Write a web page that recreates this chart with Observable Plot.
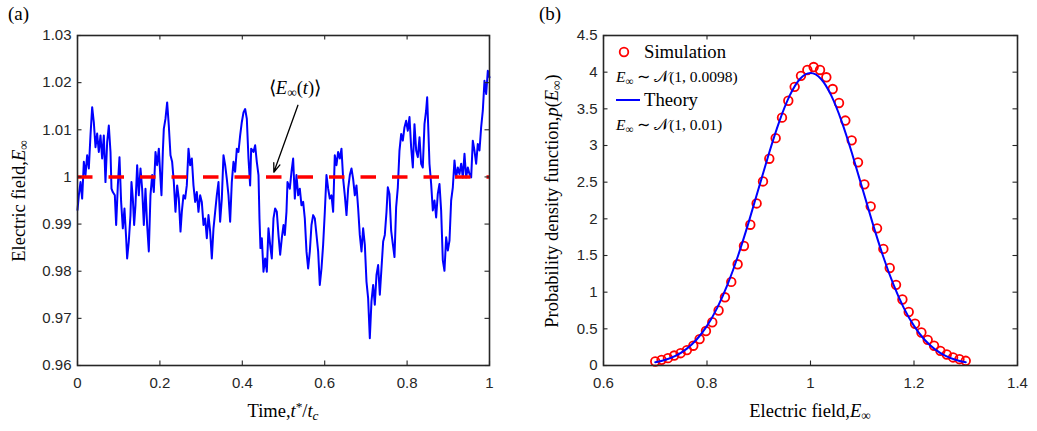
<!DOCTYPE html>
<html>
<head>
<meta charset="utf-8">
<script src="https://cdn.jsdelivr.net/npm/d3@7"></script>
<script src="https://cdn.jsdelivr.net/npm/@observablehq/plot@0.6"></script>
<style>
  body { margin: 0; background: #fff; }
  #wrap { position: relative; width: 1037px; height: 431px; overflow: hidden; background: #fff; }
  .pane { position: absolute; top: 0; }
  .tx { position: absolute; white-space: nowrap; font-family: "Liberation Serif", "Times New Roman", serif; color: #000; line-height: 1; }
  .tx i { font-style: italic; }
  .tx sub { font-size: 0.72em; vertical-align: -0.28em; line-height: 0; }
  .tx sup { font-size: 0.72em; vertical-align: 0.45em; line-height: 0; }
  .cal { font-family: "DejaVu Serif", "DejaVu Sans", serif; font-style: normal; }
  .rot { transform: translate(-50%, -50%) rotate(-90deg); }
  .ctr { transform: translate(-50%, -50%); }
  .vc { transform: translateY(-50%); }
</style>
</head>
<body>
<div id="wrap"></div>
<script>
// ---------------- Panel (a): time series ----------------
const timeT = [
  0, 0.0032, 0.0073, 0.0113, 0.0154, 0.0194, 0.0234, 0.0275, 0.0315, 0.0356, 0.0396, 0.0437, 0.0477, 0.0517, 0.0558, 0.0598, 0.0639, 0.0679, 0.0720, 0.0760, 0.0801, 0.0825, 0.0857, 0.0906, 0.0938, 0.0979, 0.1019, 0.1059, 0.1100, 0.1140, 0.1181, 0.1205, 0.1245, 0.1286, 0.1310, 0.1343, 0.1375, 0.1407, 0.1448, 0.1488, 0.1529, 0.1569, 0.1610, 0.1650, 0.1690, 0.1731, 0.1771, 0.1812, 0.1852, 0.1893, 0.1933, 0.1974, 0.2014, 0.2038, 0.2071, 0.2095, 0.2135, 0.2176, 0.2216, 0.2257, 0.2297, 0.2338, 0.2378, 0.2419, 0.2459, 0.2500,
  0.2532, 0.2572, 0.2613, 0.2653, 0.2694, 0.2734, 0.2775, 0.2815, 0.2856, 0.2896, 0.2936, 0.2977, 0.3017, 0.3058, 0.3098, 0.3139, 0.3179, 0.3220, 0.3260, 0.3301, 0.3341, 0.3381, 0.3422, 0.3462, 0.3503, 0.3543, 0.3584, 0.3624, 0.3665, 0.3705, 0.3745, 0.3786, 0.3826, 0.3867, 0.3907, 0.3948, 0.3988, 0.4029, 0.4069, 0.4110, 0.4150, 0.4190, 0.4215, 0.4271, 0.4312, 0.4352, 0.4393, 0.4417, 0.4441, 0.4474, 0.4514, 0.4555, 0.4595, 0.4635, 0.4676, 0.4716, 0.4757, 0.4797, 0.4838, 0.4878, 0.4919, 0.4959, 0.5000,
  0.5032, 0.5072, 0.5097, 0.5129, 0.5153, 0.5194, 0.5234, 0.5275, 0.5315, 0.5356, 0.5396, 0.5436, 0.5477, 0.5517, 0.5558, 0.5598, 0.5639, 0.5679, 0.5720, 0.5760, 0.5801, 0.5841, 0.5881, 0.5922, 0.5962, 0.6003, 0.6043, 0.6084, 0.6124, 0.6165, 0.6205, 0.6245, 0.6286, 0.6326, 0.6367, 0.6407, 0.6448, 0.6488, 0.6529, 0.6569, 0.6610, 0.6650, 0.6690, 0.6731, 0.6771, 0.6812, 0.6852, 0.6893, 0.6933, 0.6974, 0.7014, 0.7054, 0.7095, 0.7135, 0.7176, 0.7216, 0.7257, 0.7297, 0.7338, 0.7378, 0.7419, 0.7459, 0.7500,
  0.7532, 0.7572, 0.7613, 0.7653, 0.7694, 0.7734, 0.7775, 0.7815, 0.7856, 0.7896, 0.7936, 0.7977, 0.8017, 0.8058, 0.8098, 0.8139, 0.8179, 0.8220, 0.8260, 0.8301, 0.8341, 0.8381, 0.8422, 0.8462, 0.8487, 0.8519, 0.8543, 0.8584, 0.8624, 0.8665, 0.8705, 0.8745, 0.8786, 0.8826, 0.8867, 0.8907, 0.8948, 0.8988, 0.9029, 0.9069, 0.9110, 0.9150, 0.9190, 0.9231, 0.9271, 0.9312, 0.9352, 0.9393, 0.9433, 0.9474, 0.9514, 0.9555, 0.9595, 0.9635, 0.9676, 0.9716, 0.9757, 0.9797, 0.9838, 0.9878, 0.9919, 0.9959, 1.0000
];
const fieldE = [
  0.9930, 0.9961, 0.9989, 0.9954, 1.0032, 1.0004, 1.0046, 1.0018, 1.0088, 1.0148, 1.0116, 1.0063, 1.0092, 1.0053, 1.0088, 1.0039, 1.0088, 0.9989, 1.0074, 1.0109, 1.0053, 0.9975, 0.9968, 0.9961, 0.9898, 0.9982, 1.0042, 0.9947, 0.9891, 0.9933, 0.9870, 0.9827, 0.9863, 0.9919, 0.9989, 0.9954, 0.9898, 0.9940, 1.0025, 0.9961, 1.0018, 0.9975, 0.9898, 0.9975, 0.9898, 0.9842, 0.9961, 1.0004, 0.9968, 1.0053, 1.0025, 1.0060, 0.9996, 0.9961, 1.0053, 1.0102, 1.0123, 1.0158, 1.0109, 1.0046, 1.0032, 0.9989, 0.9926, 0.9982, 0.9954, 0.9884,
  0.9926, 0.9961, 0.9954, 0.9982, 1.0060, 1.0025, 1.0039, 0.9982, 0.9947, 0.9968, 0.9926, 0.9961, 0.9947, 0.9898, 0.9912, 0.9870, 0.9919, 0.9884, 0.9827, 0.9891, 0.9926, 0.9961, 0.9989, 0.9905, 0.9954, 1.0046, 1.0025, 0.9996, 0.9961, 0.9905, 0.9989, 1.0032, 1.0011, 1.0060, 1.0053, 1.0088, 1.0116, 1.0137, 1.0144, 1.0123, 1.0039, 0.9982, 1.0060, 1.0053, 1.0067, 1.0032, 1.0004, 0.9912, 0.9849, 0.9870, 0.9799, 0.9827, 0.9799, 0.9891, 0.9856, 0.9827, 0.9912, 0.9933, 0.9926, 0.9877, 0.9835, 0.9870, 0.9898,
  0.9877, 0.9926, 0.9989, 0.9982, 0.9975, 1.0011, 1.0039, 0.9954, 1.0004, 0.9961, 0.9975, 0.9940, 0.9947, 0.9912, 0.9842, 0.9806, 0.9842, 0.9898, 0.9919, 0.9912, 0.9877, 0.9842, 0.9771, 0.9806, 0.9856, 0.9926, 1.0004, 0.9975, 0.9954, 0.9961, 0.9926, 1.0046, 1.0025, 1.0053, 1.0039, 1.0060, 0.9996, 0.9961, 0.9919, 0.9975, 1.0004, 1.0018, 0.9996, 0.9961, 0.9982, 0.9933, 0.9877, 0.9842, 0.9891, 0.9856, 0.9778, 0.9743, 0.9658, 0.9736, 0.9771, 0.9729, 0.9792, 0.9813, 0.9750, 0.9806, 0.9863, 0.9877, 0.9926,
  0.9978, 0.9964, 0.9886, 0.9858, 0.9830, 0.9936, 0.9978, 1.0056, 1.0091, 1.0077, 1.0105, 1.0119, 1.0098, 1.0127, 1.0063, 1.0020, 1.0112, 1.0056, 1.0042, 1.0084, 1.0028, 1.0020, 1.0112, 1.0141, 1.0169, 1.0091, 1.0028, 0.9985, 0.9929, 0.9950, 0.9914, 0.9964, 0.9985, 0.9929, 0.9823, 0.9801, 0.9872, 0.9844, 0.9865, 0.9950, 0.9978, 1.0035, 0.9999, 1.0020, 1.0006, 1.0028, 0.9999, 1.0049, 0.9999, 1.0020, 1.0006, 0.9999, 1.0077, 1.0056, 1.0028, 1.0070, 1.0056, 1.0105, 1.0141, 1.0204, 1.0176, 1.0225, 1.0211
];
const meanField = 1;
const arrowA = [{ t1: 0.535, e1: 1.0152, t2: 0.4765, e2: 1.0010 }];
const xTicksA = [0, 0.2, 0.4, 0.6, 0.8, 1];
const yTicksA = [0.96, 0.97, 0.98, 0.99, 1, 1.01, 1.02, 1.03];

// ---------------- Panel (b): PDF ----------------
const pdfE = [0.7000, 0.7122, 0.7245, 0.7367, 0.7490, 0.7612, 0.7735, 0.7857, 0.7980, 0.8102,
  0.8224, 0.8347, 0.8469, 0.8592, 0.8714, 0.8837, 0.8959, 0.9082, 0.9204, 0.9327,
  0.9449, 0.9571, 0.9694, 0.9816, 0.9939, 1.0061, 1.0184, 1.0306, 1.0429, 1.0551,
  1.0673, 1.0796, 1.0918, 1.1041, 1.1163, 1.1286, 1.1408, 1.1531, 1.1653, 1.1776,
  1.1898, 1.2020, 1.2143, 1.2265, 1.2388, 1.2510, 1.2633, 1.2755, 1.2878, 1.3000];
const pdfSim = [0.055, 0.077, 0.100, 0.136, 0.168, 0.210, 0.270, 0.360, 0.470, 0.590,
  0.750, 0.930, 1.140, 1.380, 1.630, 1.920, 2.210, 2.510, 2.820, 3.100,
  3.380, 3.610, 3.800, 3.950, 4.030, 4.070, 4.030, 3.930, 3.770, 3.580,
  3.340, 3.070, 2.770, 2.470, 2.170, 1.870, 1.590, 1.330, 1.100, 0.900,
  0.730, 0.570, 0.450, 0.350, 0.270, 0.200, 0.150, 0.110, 0.086, 0.064];
const theoryE = [0.70, 0.72, 0.74, 0.76, 0.78, 0.80, 0.82, 0.84, 0.86, 0.88, 0.90, 0.92, 0.94, 0.96, 0.98, 1.00,
  1.02, 1.04, 1.06, 1.08, 1.10, 1.12, 1.14, 1.16, 1.18, 1.20, 1.22, 1.24, 1.26, 1.28, 1.30];
const theoryP = [0.0443, 0.0792, 0.1358, 0.2239, 0.3547, 0.5399, 0.7895, 1.1092, 1.4973, 1.9419, 2.4197, 2.8969, 3.3322, 3.6827, 3.9104, 3.9894,
  3.9104, 3.6827, 3.3322, 2.8969, 2.4197, 1.9419, 1.4973, 1.1092, 0.7895, 0.5399, 0.3547, 0.2239, 0.1358, 0.0792, 0.0443];
const xTicksB = [0.6, 0.8, 1, 1.2, 1.4];
const yTicksB = [0, 0.5, 1, 1.5, 2, 2.5, 3, 3.5, 4, 4.5];

// ---------------- drawing ----------------
const INK = "#262626";
const FRAME_H = 330;
const tickLen = 4.5;
const styleCommon = { fontFamily: "'Liberation Sans', Arial, Helvetica, sans-serif", fontSize: "15px", color: INK, background: "transparent", overflow: "visible" };

function boxTicks(xt, yt, w) {
  return [
    Plot.tickX(xt, { x: d => d, insetTop: FRAME_H - tickLen, stroke: INK, strokeWidth: 1.1 }),
    Plot.tickX(xt, { x: d => d, insetBottom: FRAME_H - tickLen, stroke: INK, strokeWidth: 1.1 }),
    Plot.tickY(yt, { y: d => d, insetLeft: w - tickLen, stroke: INK, strokeWidth: 1.1 }),
    Plot.tickY(yt, { y: d => d, insetRight: w - tickLen, stroke: INK, strokeWidth: 1.1 }),
    Plot.frame({ stroke: INK, strokeWidth: 1.6 }),
    Plot.axisX(xt, { anchor: "bottom", tickSize: 0, tickPadding: 12, tickFormat: d => String(d), label: null, fill: INK }),
    Plot.axisY(yt, { anchor: "left", tickSize: 0, tickPadding: 6, tickFormat: d => String(d), label: null, fill: INK })
  ];
}

const seriesA = timeT.map((t, i) => ({ t, e: fieldE[i] }));
const plotA = Plot.plot({
  width: 520, height: 431,
  marginLeft: 77, marginRight: 31, marginTop: 35, marginBottom: 66,
  x: { domain: [0, 1] },
  y: { domain: [0.96, 1.03] },
  style: styleCommon,
  marks: [
    Plot.line(seriesA, { x: "t", y: "e", stroke: "#0000ff", strokeWidth: 2, strokeLinejoin: "round" }),
    Plot.ruleY([meanField], { stroke: "#ff0000", strokeWidth: 3.6, strokeDasharray: "15.5,16" }),
    Plot.arrow(arrowA, { x1: "t1", y1: "e1", x2: "t2", y2: "e2", stroke: "#000", strokeWidth: 1.3, headLength: 11, headAngle: 40 }),
    ...boxTicks(xTicksA, yTicksA, 412)
  ]
});

const simData = pdfE.map((e, i) => ({ e, p: pdfSim[i] }));
const theoryData = theoryE.map((e, i) => ({ e, p: theoryP[i] }));
const plotB = Plot.plot({
  width: 517, height: 431,
  marginLeft: 83, marginRight: 20, marginTop: 35, marginBottom: 66,
  x: { domain: [0.6, 1.4] },
  y: { domain: [0, 4.5] },
  style: styleCommon,
  marks: [
    Plot.dot(simData, { x: "e", y: "p", r: 4.3, stroke: "#ff0000", strokeWidth: 1.8, fill: "none" }),
    Plot.line(theoryData, { x: "e", y: "p", stroke: "#0000ff", strokeWidth: 2, curve: "natural" }),
    ...boxTicks(xTicksB, yTicksB, 414)
  ]
});

const wrap = document.getElementById("wrap");
function pane(svg, left, w) {
  const d = document.createElement("div");
  d.className = "pane";
  d.style.left = left + "px";
  d.style.width = w + "px";
  d.appendChild(svg);
  wrap.appendChild(d);
}
pane(plotA, 0, 520);
pane(plotB, 520, 517);

function txt(html, x, y, size, cls) {
  const d = document.createElement("div");
  d.className = "tx " + (cls || "");
  d.style.left = x + "px";
  d.style.top = y + "px";
  d.style.fontSize = size + "px";
  d.innerHTML = html;
  wrap.appendChild(d);
  return d;
}
const Einf = '<i>E</i><sub>∞</sub>';
const CalN = '<span class="cal">𝒩</span>';

// panel letters
txt('(a)', 8, 13, 19, 'vc');
txt('(b)', 539, 13, 19, 'vc');
// axis labels
txt('Time,<i>t</i><sup>*</sup>/<i>t</i><sub><i>c</i></sub>', 283, 411, 18.5, 'ctr');
txt('Electric field,' + Einf, 19, 201, 18.5, 'rot');
txt('Electric field,' + Einf, 810, 411, 18.5, 'ctr');
txt('Probability density function,<i>p</i>(' + Einf + ')', 552, 201, 18.5, 'rot');
// annotation
txt('⟨' + Einf + '(<i>t</i>)⟩', 295, 88, 18.5, 'ctr');
// legend
const lg = document.createElementNS("http://www.w3.org/2000/svg", "svg");
lg.setAttribute("width", "40"); lg.setAttribute("height", "70");
lg.style.position = "absolute"; lg.style.left = "610px"; lg.style.top = "40px";
lg.innerHTML = '<circle cx="14" cy="12" r="4.3" fill="none" stroke="#ff0000" stroke-width="1.8"/>' +
               '<line x1="6" x2="30" y1="60" y2="60" stroke="#0000ff" stroke-width="2"/>';
wrap.appendChild(lg);
txt('Simulation', 644, 52, 18.7, 'vc');
txt(Einf + ' ∼ ' + CalN + '(1, 0.0098)', 616, 77, 15.5, 'vc');
txt('Theory', 644, 100, 18.7, 'vc');
txt(Einf + ' ∼ ' + CalN + '(1, 0.01)', 616, 125, 15.5, 'vc');
</script>
</body>
</html>
